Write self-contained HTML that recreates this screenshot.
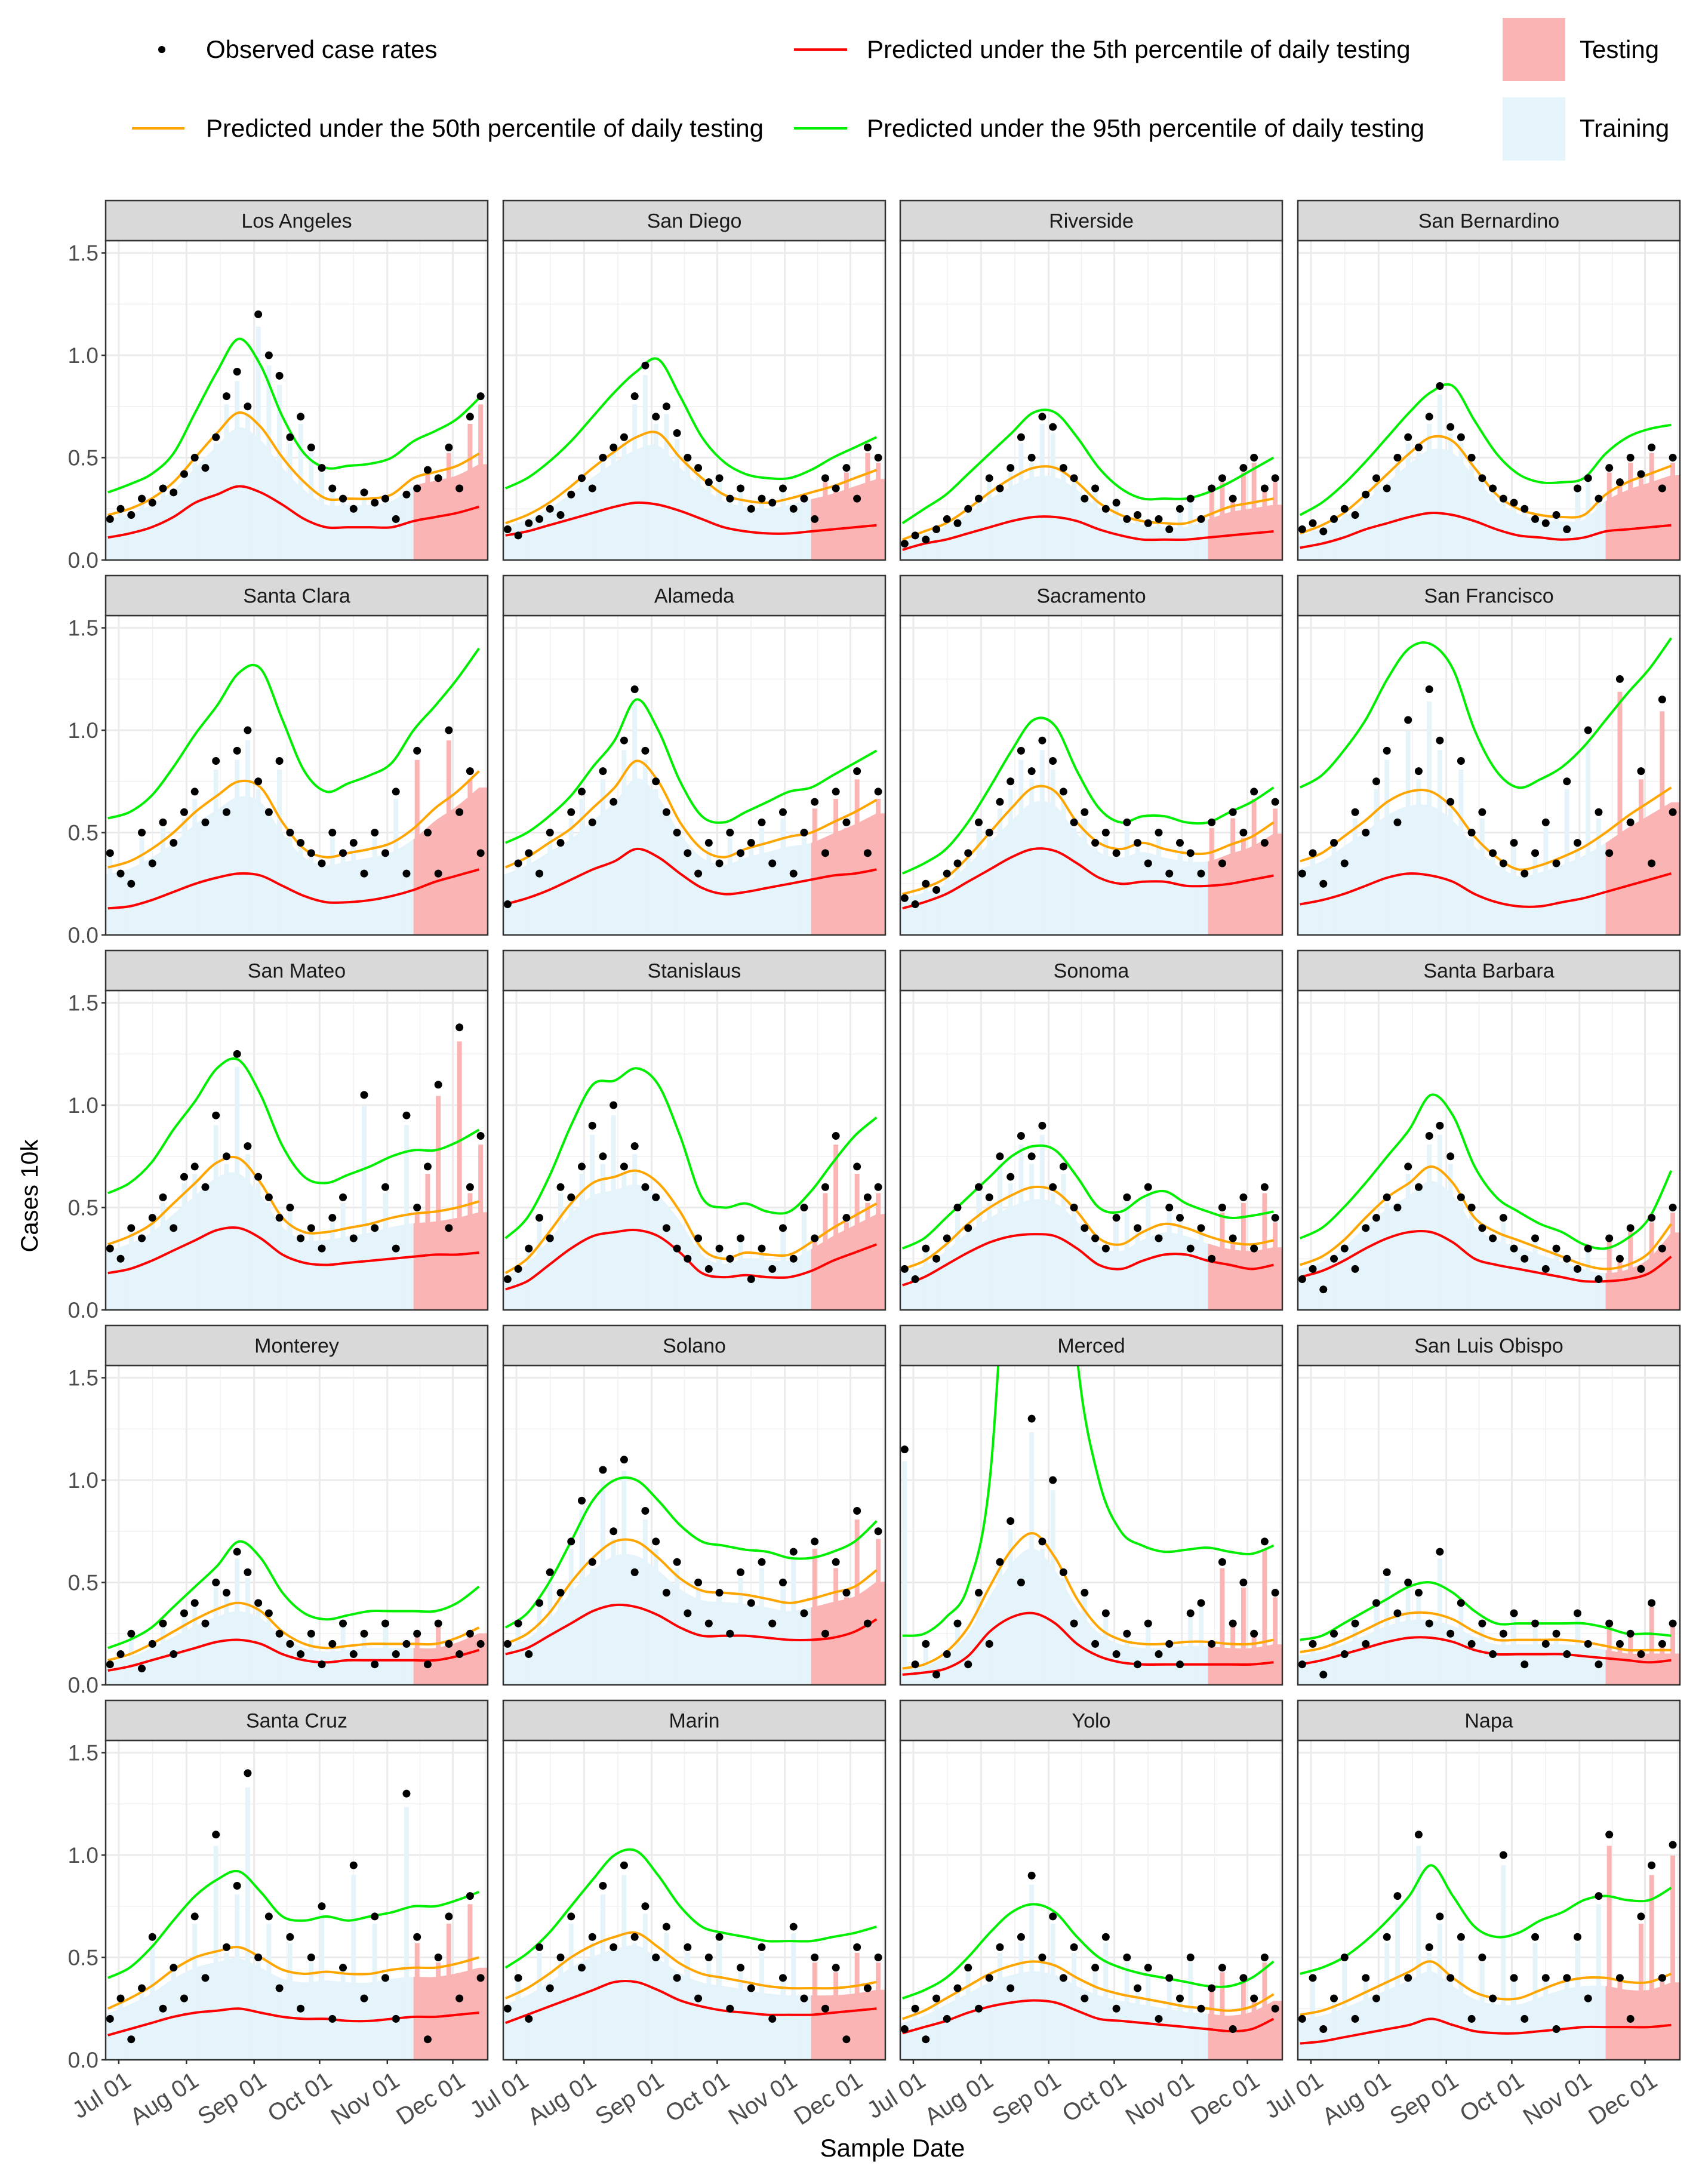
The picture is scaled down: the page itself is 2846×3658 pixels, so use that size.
<!DOCTYPE html>
<html><head><meta charset="utf-8">
<style>
html,body{margin:0;padding:0;background:#fff;}
svg{display:block;font-family:"Liberation Sans",Arial,sans-serif;}
</style></head>
<body>
<svg id="chart" xmlns="http://www.w3.org/2000/svg" width="2846" height="3658" viewBox="0 0 2846 3658">
<rect width="2846" height="3658" fill="#fff"/>
<g>
  <g>
    <circle cx="271" cy="83" r="6" fill="#000"/>
    <text x="345" y="97" font-size="42" fill="#000">Observed case rates</text>
  </g>
  <g>
    <line x1="221" y1="215" x2="309" y2="215" stroke="#FFA500" stroke-width="4"/>
    <text x="345" y="229" font-size="42" fill="#000">Predicted under the 50th percentile of daily testing</text>
  </g>
  <g>
    <line x1="1330" y1="83" x2="1419" y2="83" stroke="#FF0000" stroke-width="4"/>
    <text x="1452" y="97" font-size="42" fill="#000">Predicted under the 5th percentile of daily testing</text>
  </g>
  <g>
    <line x1="1330" y1="215" x2="1419" y2="215" stroke="#00EE00" stroke-width="4"/>
    <text x="1452" y="229" font-size="42" fill="#000">Predicted under the 95th percentile of daily testing</text>
  </g>
  <g>
    <rect x="2517" y="30" width="105" height="106" fill="#FBB4B4"/>
    <text x="2646" y="97" font-size="42" fill="#000">Testing</text>
  </g>
  <g>
    <rect x="2517" y="163" width="105" height="106" fill="#E5F3FA"/>
    <text x="2646" y="229" font-size="42" fill="#000">Training</text>
  </g>
</g>
<text x="63" y="2003" font-size="40" fill="#000" text-anchor="middle" transform="rotate(-90 63 2003)">Cases 10k</text>
<text x="1495" y="3612" font-size="42" fill="#000" text-anchor="middle">Sample Date</text>
<g id="panels"></g>
</svg>
<script>
// ---- data ----
const counties = ["Los Angeles","San Diego","Riverside","San Bernardino","Santa Clara","Alameda","Sacramento","San Francisco","San Mateo","Stanislaus","Sonoma","Santa Barbara","Monterey","Solano","Merced","San Luis Obispo","Santa Cruz","Marin","Yolo","Napa"];
const lineDays = [-5,5,15,25,35,45,55,65,75,85,95,105,115,125,135,145,155,165];
const obsStart = -4;
const obsStep = 4.85;
const testStartDay = 135;
const yTicks = [0,0.5,1.0,1.5];
const yTickLabels = ["0.0","0.5","1.0","1.5"];
const xTickDays = [0,31,62,92,123,153];
const xTickLabels = ["Jul 01","Aug 01","Sep 01","Oct 01","Nov 01","Dec 01"];

const p95 = [
[0.33,0.37,0.42,0.52,0.72,0.92,1.08,0.95,0.70,0.52,0.45,0.46,0.47,0.50,0.58,0.63,0.69,0.79],
[0.35,0.40,0.48,0.58,0.70,0.82,0.92,0.98,0.80,0.60,0.48,0.42,0.40,0.40,0.44,0.50,0.55,0.60],
[0.18,0.25,0.32,0.42,0.52,0.62,0.72,0.72,0.60,0.45,0.35,0.30,0.30,0.30,0.33,0.38,0.44,0.50],
[0.22,0.28,0.37,0.48,0.60,0.72,0.82,0.85,0.68,0.52,0.42,0.38,0.38,0.40,0.52,0.60,0.64,0.66],
[0.57,0.60,0.68,0.82,0.98,1.12,1.28,1.30,1.05,0.80,0.70,0.74,0.78,0.84,1.00,1.12,1.25,1.40],
[0.45,0.50,0.58,0.68,0.82,0.95,1.15,1.00,0.75,0.58,0.55,0.60,0.65,0.70,0.72,0.78,0.84,0.90],
[0.30,0.35,0.42,0.55,0.72,0.90,1.05,1.02,0.80,0.62,0.55,0.58,0.58,0.55,0.55,0.60,0.65,0.72],
[0.72,0.78,0.90,1.05,1.25,1.40,1.42,1.30,1.00,0.80,0.72,0.76,0.82,0.92,1.05,1.18,1.30,1.45],
[0.57,0.62,0.72,0.88,1.02,1.18,1.22,1.05,0.80,0.65,0.62,0.66,0.70,0.75,0.78,0.78,0.82,0.88],
[0.35,0.45,0.65,0.90,1.10,1.12,1.18,1.10,0.85,0.55,0.50,0.52,0.48,0.48,0.58,0.72,0.85,0.94],
[0.30,0.35,0.45,0.55,0.65,0.75,0.80,0.78,0.65,0.50,0.48,0.55,0.58,0.52,0.48,0.45,0.46,0.48],
[0.35,0.40,0.50,0.62,0.75,0.88,1.05,0.95,0.70,0.55,0.48,0.42,0.38,0.32,0.30,0.35,0.45,0.68],
[0.18,0.22,0.28,0.38,0.48,0.58,0.70,0.62,0.45,0.35,0.32,0.34,0.36,0.36,0.36,0.36,0.40,0.48],
[0.28,0.35,0.50,0.70,0.90,1.00,1.00,0.90,0.78,0.70,0.68,0.66,0.65,0.62,0.62,0.65,0.70,0.80],
[0.24,0.25,0.33,0.48,1.00,2.50,3.00,3.00,1.60,1.00,0.75,0.68,0.65,0.66,0.67,0.65,0.64,0.68],
[0.22,0.24,0.30,0.36,0.42,0.48,0.50,0.45,0.36,0.30,0.30,0.30,0.30,0.30,0.28,0.25,0.25,0.24],
[0.40,0.45,0.55,0.68,0.80,0.88,0.92,0.82,0.70,0.68,0.70,0.68,0.70,0.72,0.75,0.75,0.78,0.82],
[0.45,0.52,0.62,0.75,0.88,1.00,1.02,0.90,0.75,0.65,0.62,0.60,0.58,0.58,0.58,0.60,0.62,0.65],
[0.30,0.34,0.40,0.50,0.62,0.72,0.76,0.72,0.60,0.50,0.45,0.42,0.40,0.38,0.36,0.36,0.40,0.48],
[0.42,0.45,0.50,0.58,0.68,0.80,0.95,0.80,0.65,0.60,0.62,0.68,0.72,0.78,0.80,0.78,0.78,0.84]
];
const p50 = [
[0.22,0.25,0.30,0.38,0.50,0.62,0.72,0.65,0.50,0.38,0.30,0.30,0.30,0.32,0.40,0.43,0.46,0.52],
[0.18,0.22,0.28,0.36,0.45,0.53,0.60,0.62,0.50,0.40,0.32,0.29,0.28,0.30,0.33,0.36,0.40,0.44],
[0.10,0.14,0.18,0.25,0.33,0.40,0.45,0.45,0.38,0.28,0.22,0.19,0.18,0.18,0.22,0.26,0.28,0.30],
[0.13,0.17,0.23,0.32,0.42,0.52,0.60,0.58,0.45,0.32,0.25,0.22,0.21,0.22,0.32,0.38,0.42,0.46],
[0.33,0.36,0.42,0.50,0.60,0.68,0.75,0.72,0.55,0.42,0.38,0.40,0.42,0.45,0.52,0.62,0.70,0.80],
[0.33,0.38,0.45,0.52,0.62,0.72,0.85,0.75,0.55,0.42,0.38,0.42,0.45,0.48,0.50,0.55,0.60,0.66],
[0.20,0.23,0.28,0.38,0.50,0.62,0.72,0.70,0.55,0.45,0.42,0.45,0.42,0.40,0.40,0.44,0.48,0.55],
[0.36,0.40,0.48,0.56,0.65,0.70,0.70,0.62,0.48,0.38,0.32,0.34,0.38,0.43,0.50,0.58,0.65,0.72],
[0.32,0.36,0.42,0.52,0.62,0.72,0.74,0.62,0.45,0.38,0.38,0.40,0.42,0.45,0.47,0.48,0.50,0.53],
[0.18,0.25,0.38,0.52,0.62,0.65,0.68,0.62,0.48,0.30,0.25,0.28,0.27,0.27,0.33,0.40,0.46,0.52],
[0.20,0.24,0.32,0.42,0.50,0.56,0.60,0.58,0.48,0.35,0.32,0.38,0.42,0.40,0.36,0.33,0.32,0.34],
[0.22,0.26,0.34,0.45,0.55,0.62,0.70,0.62,0.45,0.38,0.34,0.30,0.26,0.22,0.20,0.22,0.28,0.42],
[0.12,0.15,0.20,0.26,0.32,0.37,0.40,0.36,0.26,0.20,0.18,0.19,0.20,0.20,0.20,0.20,0.23,0.28],
[0.20,0.25,0.35,0.50,0.62,0.70,0.70,0.62,0.52,0.46,0.45,0.44,0.42,0.40,0.42,0.45,0.48,0.56],
[0.08,0.10,0.16,0.28,0.48,0.66,0.74,0.62,0.42,0.28,0.22,0.20,0.20,0.21,0.21,0.20,0.20,0.22],
[0.16,0.18,0.22,0.27,0.32,0.35,0.35,0.32,0.26,0.22,0.22,0.22,0.22,0.21,0.19,0.17,0.17,0.17],
[0.25,0.30,0.36,0.44,0.50,0.53,0.55,0.50,0.44,0.42,0.43,0.42,0.42,0.44,0.45,0.45,0.47,0.50],
[0.30,0.35,0.42,0.50,0.56,0.60,0.62,0.55,0.47,0.42,0.40,0.38,0.36,0.35,0.35,0.35,0.36,0.38],
[0.20,0.24,0.30,0.36,0.42,0.46,0.48,0.46,0.40,0.35,0.32,0.30,0.28,0.26,0.25,0.24,0.26,0.32],
[0.22,0.24,0.28,0.33,0.38,0.43,0.48,0.40,0.33,0.30,0.30,0.34,0.38,0.40,0.40,0.38,0.38,0.42]
];
const p5 = [
[0.11,0.13,0.16,0.21,0.28,0.32,0.36,0.33,0.27,0.20,0.16,0.16,0.16,0.16,0.19,0.21,0.23,0.26],
[0.12,0.14,0.17,0.20,0.23,0.26,0.28,0.27,0.24,0.20,0.16,0.14,0.13,0.13,0.14,0.15,0.16,0.17],
[0.05,0.08,0.10,0.13,0.16,0.19,0.21,0.21,0.19,0.15,0.12,0.10,0.10,0.10,0.11,0.12,0.13,0.14],
[0.06,0.08,0.11,0.15,0.18,0.21,0.23,0.22,0.19,0.15,0.12,0.11,0.10,0.11,0.14,0.15,0.16,0.17],
[0.13,0.14,0.17,0.21,0.25,0.28,0.30,0.29,0.24,0.19,0.16,0.16,0.17,0.19,0.22,0.26,0.29,0.32],
[0.15,0.18,0.22,0.27,0.32,0.36,0.42,0.38,0.30,0.23,0.20,0.21,0.23,0.25,0.27,0.29,0.30,0.32],
[0.13,0.16,0.20,0.26,0.32,0.38,0.42,0.41,0.35,0.28,0.25,0.26,0.26,0.24,0.24,0.25,0.27,0.29],
[0.15,0.17,0.20,0.24,0.28,0.30,0.29,0.26,0.20,0.16,0.14,0.14,0.16,0.18,0.21,0.24,0.27,0.30],
[0.18,0.20,0.24,0.29,0.34,0.39,0.40,0.35,0.27,0.23,0.22,0.23,0.24,0.25,0.26,0.27,0.27,0.28],
[0.10,0.14,0.22,0.30,0.36,0.38,0.39,0.36,0.28,0.18,0.16,0.17,0.16,0.16,0.19,0.24,0.28,0.32],
[0.12,0.16,0.22,0.28,0.33,0.36,0.37,0.36,0.30,0.22,0.20,0.24,0.27,0.27,0.24,0.22,0.20,0.22],
[0.16,0.19,0.24,0.30,0.35,0.38,0.38,0.33,0.25,0.22,0.20,0.18,0.16,0.14,0.14,0.15,0.18,0.26],
[0.07,0.09,0.12,0.15,0.18,0.21,0.22,0.20,0.15,0.12,0.11,0.12,0.12,0.12,0.12,0.12,0.14,0.17],
[0.15,0.18,0.24,0.30,0.36,0.39,0.38,0.34,0.28,0.24,0.24,0.24,0.23,0.22,0.22,0.23,0.26,0.32],
[0.05,0.06,0.08,0.14,0.26,0.33,0.35,0.30,0.20,0.14,0.11,0.10,0.10,0.10,0.10,0.10,0.10,0.11],
[0.10,0.12,0.15,0.18,0.21,0.23,0.23,0.21,0.17,0.15,0.15,0.15,0.15,0.14,0.13,0.12,0.11,0.12],
[0.12,0.15,0.18,0.21,0.23,0.24,0.25,0.23,0.21,0.20,0.20,0.19,0.19,0.20,0.21,0.21,0.22,0.23],
[0.18,0.22,0.26,0.30,0.34,0.38,0.38,0.34,0.29,0.26,0.24,0.23,0.22,0.22,0.22,0.23,0.24,0.25],
[0.13,0.16,0.19,0.23,0.26,0.28,0.29,0.28,0.24,0.20,0.19,0.18,0.17,0.16,0.15,0.14,0.15,0.20],
[0.08,0.09,0.11,0.13,0.15,0.17,0.20,0.17,0.14,0.13,0.13,0.14,0.15,0.16,0.16,0.16,0.16,0.17]
];
const observed = [
[0.20,0.25,0.22,0.30,0.28,0.35,0.33,0.42,0.50,0.45,0.60,0.80,0.92,0.75,1.20,1.00,0.90,0.60,0.70,0.55,0.45,0.35,0.30,0.25,0.33,0.28,0.30,0.20,0.32,0.35,0.44,0.40,0.55,0.35,0.70,0.80],
[0.15,0.12,0.18,0.20,0.25,0.22,0.32,0.40,0.35,0.50,0.55,0.60,0.80,0.95,0.70,0.75,0.62,0.50,0.45,0.38,0.40,0.30,0.35,0.25,0.30,0.28,0.35,0.25,0.30,0.20,0.40,0.35,0.45,0.30,0.55,0.50],
[0.08,0.12,0.10,0.15,0.20,0.18,0.25,0.30,0.40,0.35,0.45,0.60,0.50,0.70,0.65,0.45,0.40,0.30,0.35,0.25,0.28,0.20,0.22,0.18,0.20,0.15,0.25,0.30,0.20,0.35,0.40,0.30,0.45,0.50,0.35,0.40],
[0.15,0.18,0.14,0.20,0.25,0.22,0.32,0.40,0.35,0.50,0.60,0.55,0.70,0.85,0.65,0.60,0.50,0.40,0.35,0.30,0.28,0.25,0.20,0.18,0.22,0.15,0.35,0.40,0.30,0.45,0.38,0.50,0.42,0.55,0.35,0.50],
[0.40,0.30,0.25,0.50,0.35,0.55,0.45,0.60,0.70,0.55,0.85,0.60,0.90,1.00,0.75,0.60,0.85,0.50,0.45,0.40,0.35,0.50,0.40,0.45,0.30,0.50,0.40,0.70,0.30,0.90,0.50,0.30,1.00,0.60,0.80,0.40],
[0.15,0.35,0.40,0.30,0.50,0.45,0.60,0.70,0.55,0.80,0.65,0.95,1.20,0.90,0.75,0.60,0.50,0.40,0.30,0.45,0.35,0.50,0.40,0.45,0.55,0.35,0.60,0.30,0.50,0.65,0.40,0.70,0.55,0.80,0.40,0.70],
[0.18,0.15,0.25,0.22,0.30,0.35,0.40,0.55,0.50,0.65,0.75,0.90,0.80,0.95,0.85,0.70,0.55,0.60,0.45,0.50,0.40,0.55,0.45,0.35,0.50,0.30,0.45,0.40,0.30,0.55,0.35,0.60,0.50,0.70,0.45,0.65],
[0.30,0.40,0.25,0.45,0.35,0.60,0.50,0.75,0.90,0.55,1.05,0.80,1.20,0.95,0.65,0.85,0.50,0.60,0.40,0.35,0.45,0.30,0.40,0.55,0.35,0.75,0.45,1.00,0.60,0.40,1.25,0.55,0.80,0.35,1.15,0.60],
[0.30,0.25,0.40,0.35,0.45,0.55,0.40,0.65,0.70,0.60,0.95,0.75,1.25,0.80,0.65,0.55,0.45,0.50,0.35,0.40,0.30,0.45,0.55,0.35,1.05,0.40,0.60,0.30,0.95,0.50,0.70,1.10,0.40,1.38,0.60,0.85],
[0.15,0.20,0.30,0.45,0.35,0.60,0.55,0.70,0.90,0.75,1.00,0.70,0.80,0.60,0.55,0.40,0.30,0.25,0.35,0.20,0.30,0.25,0.35,0.15,0.30,0.20,0.40,0.25,0.50,0.35,0.60,0.85,0.45,0.70,0.55,0.60],
[0.20,0.15,0.30,0.25,0.35,0.50,0.40,0.60,0.55,0.75,0.65,0.85,0.75,0.90,0.60,0.70,0.50,0.40,0.35,0.30,0.45,0.55,0.40,0.60,0.35,0.50,0.45,0.30,0.40,0.25,0.50,0.35,0.55,0.30,0.60,0.45],
[0.15,0.20,0.10,0.25,0.30,0.20,0.40,0.45,0.55,0.50,0.70,0.60,0.85,0.90,0.75,0.55,0.50,0.40,0.35,0.45,0.30,0.25,0.35,0.20,0.30,0.25,0.20,0.30,0.15,0.35,0.25,0.40,0.20,0.45,0.30,0.50],
[0.10,0.15,0.25,0.08,0.20,0.30,0.15,0.35,0.40,0.30,0.50,0.45,0.65,0.55,0.40,0.35,0.25,0.20,0.15,0.25,0.10,0.20,0.30,0.15,0.25,0.10,0.30,0.15,0.20,0.25,0.10,0.30,0.20,0.15,0.25,0.20],
[0.20,0.30,0.15,0.40,0.55,0.45,0.70,0.90,0.60,1.05,0.75,1.10,0.55,0.85,0.70,0.45,0.60,0.35,0.50,0.30,0.45,0.25,0.55,0.40,0.60,0.30,0.50,0.65,0.35,0.70,0.25,0.60,0.45,0.85,0.30,0.75],
[1.15,0.10,0.20,0.05,0.15,0.30,0.10,0.45,0.20,0.60,0.80,0.50,1.30,0.70,1.00,0.55,0.30,0.45,0.20,0.35,0.15,0.25,0.10,0.30,0.15,0.20,0.10,0.35,0.40,0.20,0.60,0.30,0.50,0.25,0.70,0.45],
[0.10,0.20,0.05,0.25,0.15,0.30,0.20,0.40,0.55,0.35,0.50,0.45,0.30,0.65,0.25,0.40,0.20,0.30,0.15,0.25,0.35,0.10,0.30,0.20,0.25,0.15,0.35,0.20,0.10,0.30,0.20,0.25,0.15,0.40,0.20,0.30],
[0.20,0.30,0.10,0.35,0.60,0.25,0.45,0.30,0.70,0.40,1.10,0.55,0.85,1.40,0.50,0.70,0.35,0.60,0.25,0.50,0.75,0.20,0.45,0.95,0.30,0.70,0.40,0.20,1.30,0.60,0.10,0.50,0.70,0.30,0.80,0.40],
[0.25,0.40,0.20,0.55,0.35,0.50,0.70,0.45,0.60,0.85,0.55,0.95,0.60,0.75,0.50,0.65,0.40,0.55,0.30,0.50,0.60,0.25,0.45,0.35,0.55,0.20,0.40,0.65,0.30,0.50,0.25,0.45,0.10,0.55,0.35,0.50],
[0.15,0.25,0.10,0.30,0.20,0.35,0.45,0.25,0.40,0.55,0.35,0.60,0.90,0.50,0.70,0.40,0.55,0.30,0.45,0.60,0.25,0.50,0.35,0.45,0.20,0.40,0.30,0.50,0.25,0.35,0.45,0.15,0.40,0.30,0.50,0.25],
[0.20,0.40,0.15,0.30,0.50,0.20,0.40,0.30,0.60,0.80,0.40,1.10,0.55,0.70,0.40,0.60,0.20,0.50,0.30,1.00,0.40,0.20,0.60,0.40,0.15,0.40,0.60,0.30,0.80,1.10,0.40,0.20,0.70,0.95,0.40,1.05]
];

// ---- layout ----
const NS = "http://www.w3.org/2000/svg";
const colLeft = [177, 843, 1508, 2174];
const panelW = 640;
const stripTop0 = 336, rowPitch = 628, stripH = 67, panelH = 535;
const dayMin = -6, dayMax = 169, yMax = 1.56;

function mk(tag, attrs, parent){
  const e = document.createElementNS(NS, tag);
  for (const k in attrs) e.setAttribute(k, attrs[k]);
  if (parent) parent.appendChild(e);
  return e;
}
function smoothPath(pts){
  let d = "M" + pts[0][0].toFixed(1) + "," + pts[0][1].toFixed(1);
  for (let i = 0; i < pts.length - 1; i++){
    const p0 = pts[i-1] || pts[i], p1 = pts[i], p2 = pts[i+1], p3 = pts[i+2] || p2;
    const c1x = p1[0] + (p2[0]-p0[0])/6, c1y = p1[1] + (p2[1]-p0[1])/6;
    const c2x = p2[0] - (p3[0]-p1[0])/6, c2y = p2[1] - (p3[1]-p1[1])/6;
    d += "C" + c1x.toFixed(1)+","+c1y.toFixed(1)+" "+c2x.toFixed(1)+","+c2y.toFixed(1)+" "+p2[0].toFixed(1)+","+p2[1].toFixed(1);
  }
  return d;
}

const root = document.getElementById("panels");
const defs = mk("defs", {}, root);

counties.forEach((name, idx) => {
  const r = Math.floor(idx / 4), c = idx % 4;
  const left = colLeft[c];
  const stripTop = stripTop0 + r * rowPitch;
  const top = stripTop + stripH;
  const bottom = top + panelH;
  const xS = d => left + (d - dayMin) / (dayMax - dayMin) * panelW;
  const yS = v => bottom - v / yMax * panelH;
  const xT = xS(testStartDay);

  const g = mk("g", {}, root);
  
  

  const cp = mk("clipPath", {id: "clip" + idx}, defs);
  mk("rect", {x: left, y: top, width: panelW, height: panelH}, cp);
  const cpTr = mk("clipPath", {id: "cliptr" + idx}, defs);
  mk("rect", {x: left, y: top, width: xT - left, height: panelH}, cpTr);
  const cpTe = mk("clipPath", {id: "clipte" + idx}, defs);
  mk("rect", {x: xT, y: top, width: left + panelW - xT, height: panelH}, cpTe);

  mk("rect", {x: left, y: top, width: panelW, height: panelH, fill: "#fff"}, g);
  // gridlines
  const grid = mk("g", {}, g);
  
  
  for (let v = 0.25; v < yMax; v += 0.5) mk("line", {x1:left, x2:left+panelW, y1:yS(v), y2:yS(v), stroke:"#f0f0f0", "stroke-width":1.5}, grid);
  yTicks.forEach(v => mk("line", {x1:left, x2:left+panelW, y1:yS(v), y2:yS(v), stroke:"#ebebeb", "stroke-width":3}, grid));
  xTickDays.forEach((d, i) => {
    mk("line", {x1:xS(d), x2:xS(d), y1:top, y2:bottom, stroke:"#ebebeb", "stroke-width":3}, grid);
    const mid = i < xTickDays.length - 1 ? (d + xTickDays[i+1]) / 2 : d + 15;
    if (mid < dayMax) mk("line", {x1:xS(mid), x2:xS(mid), y1:top, y2:bottom, stroke:"#f0f0f0", "stroke-width":1.5}, grid);
  });

  // bands (dense daily bars approximation)
  const bandPath = smoothPath(lineDays.map((d,i)=>[xS(d), yS(p50[idx][i]*0.9)])).replace(/^M/, "M") ;
  const firstX = xS(lineDays[0]), lastX = xS(lineDays[lineDays.length-1]);
  const closed = "M" + (left-5) + "," + bottom + "L" + (left-5) + "," + yS(p50[idx][0]*0.9).toFixed(1) + "L" + bandPath.slice(1) + "L" + (left+panelW+5) + "," + yS(p50[idx][lineDays.length-1]*0.9).toFixed(1) + "L" + (left+panelW+5) + "," + bottom + "Z";
  const trG = mk("g", {"clip-path": "url(#cliptr" + idx + ")"}, g);
  const teG = mk("g", {"clip-path": "url(#clipte" + idx + ")"}, g);
  const trainArea = mk("path", {d: closed, fill:"#E5F3FA"}, trG);
  
  
  const testArea = mk("path", {d: closed, fill:"#FBB4B4"}, teG);
  
  

  // bars
  const vals = observed[idx];
  const bw = obsStep / (dayMax - dayMin) * panelW * 0.45;
  vals.forEach((v, i) => {
    const d = obsStart + i * obsStep;
    const test = d >= testStartDay;
    const b = mk("rect", {x: xS(d) - bw/2, y: yS(v*0.95), width: bw, height: Math.max(0, bottom - yS(v*0.95)), fill: test ? "#FBB4B4" : "#E5F3FA"}, test ? teG : trG);
    
    
  });

  const clipG = mk("g", {"clip-path": "url(#clip" + idx + ")"}, g);
  // lines
  const series = [[p5, "#FF0000", "p5-line"], [p50, "#FFA500", "p50-line"], [p95, "#00EE00", "p95-line"]];
  series.forEach(([arr, col, nm]) => {
    const pts = lineDays.map((d, i) => [xS(d), yS(arr[idx][i])]);
    const p = mk("path", {d: smoothPath(pts), fill: "none", stroke: col, "stroke-width": 4, "stroke-linejoin": "round"}, clipG);
    
    
  });
  // points
  vals.forEach((v, i) => {
    const d = obsStart + i * obsStep;
    const pt = mk("circle", {cx: xS(d), cy: yS(v), r: 6.5, fill: "#000"}, clipG);
    
    
  });
  // border
  mk("rect", {x: left, y: top, width: panelW, height: panelH, fill: "none", stroke: "#333", "stroke-width": 2.5}, g);
  // strip
  const strip = mk("g", {}, g);
  
  
  mk("rect", {x: left, y: stripTop, width: panelW, height: stripH, fill: "#d9d9d9", stroke: "#333", "stroke-width": 2.5}, strip);
  const st = mk("text", {x: left + panelW/2, y: stripTop + stripH/2 + 12, "font-size": 34, fill: "#1a1a1a", "text-anchor": "middle"}, strip);
  st.textContent = name;

  // y axis
  if (c === 0){
    yTicks.forEach((v, i) => {
      mk("line", {x1:left-7, x2:left, y1:yS(v), y2:yS(v), stroke:"#333", "stroke-width":2.5}, g);
      const t = mk("text", {x:left-12, y:yS(v)+13, "font-size":37, fill:"#4d4d4d", "text-anchor":"end"}, g);
      
      
      t.textContent = yTickLabels[i];
    });
  }
  // x axis
  if (r === 4){
    xTickDays.forEach((d, i) => {
      mk("line", {x1:xS(d), x2:xS(d), y1:bottom, y2:bottom+7, stroke:"#333", "stroke-width":2.5}, g);
      const tx = xS(d) + 8, ty = bottom + 18;
      const t = mk("text", {x:tx, y:ty, "font-size":40, fill:"#4d4d4d", "text-anchor":"end", "dominant-baseline":"hanging", transform:"rotate(-33 " + tx + " " + ty + ")"}, g);
      
      
      t.textContent = xTickLabels[i];
    });
  }
});
</script>
</body></html>
